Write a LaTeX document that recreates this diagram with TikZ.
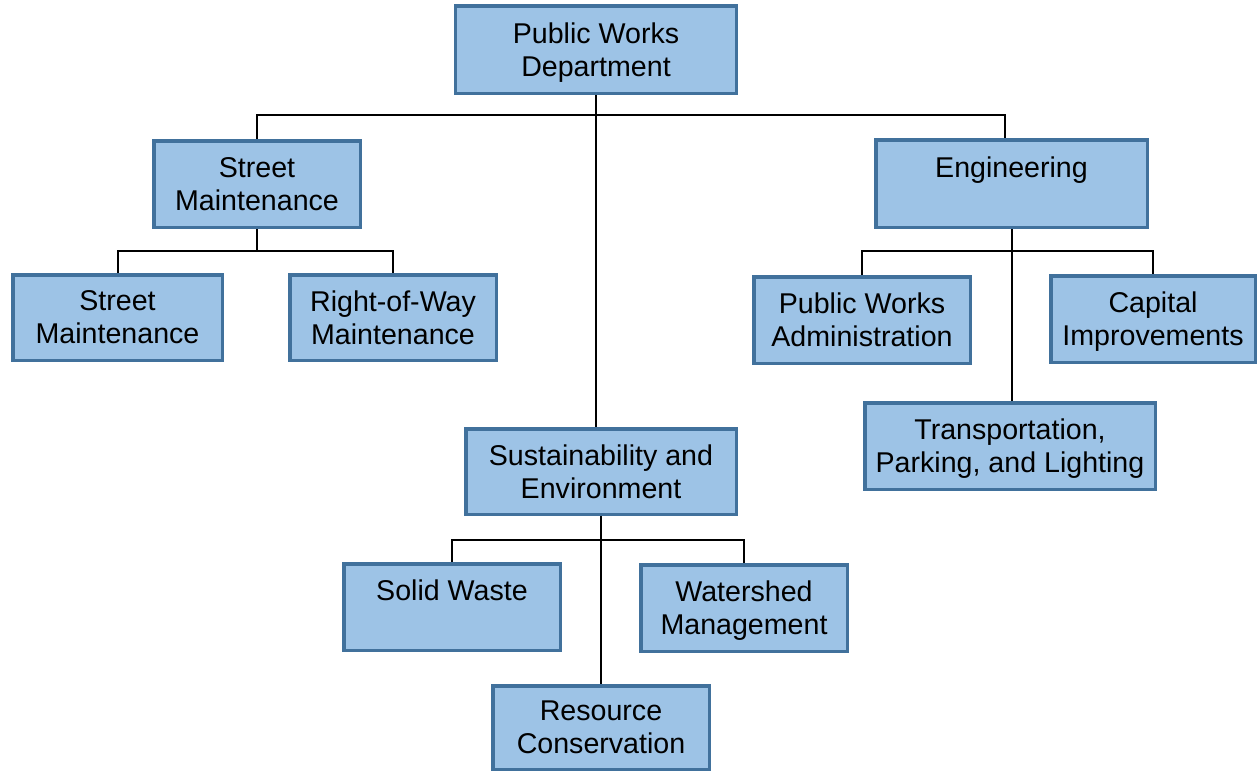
\documentclass[tikz,border=0pt]{standalone}
\usepackage{fontspec}
\setmainfont{Liberation Sans}
\usetikzlibrary{backgrounds}
\definecolor{boxfill}{RGB}{157,195,230}
\definecolor{boxline}{RGB}{65,113,156}
\newcommand\twoline[2]{\rule{0pt}{18.5pt}#1\\\smash{#2}}
\begin{document}
\begin{tikzpicture}[x=1pt,y=-1pt,
  orgbox/.style={draw=boxline, fill=boxfill, line width=3.5pt, align=center,
    inner sep=0pt, font=\fontsize{28.6}{33}\selectfont},
  link/.style={draw=black, line width=2pt}]
\useasboundingbox (0,0) rectangle (1257,772);

\node[orgbox, minimum width=281pt, minimum height=87.5pt] (top) at (596,49.5) {\twoline{Public Works}{Department}};
\node[orgbox, minimum width=206.5pt, minimum height=86.5pt] (sm) at (257,184) {\twoline{Street}{Maintenance}};
\node[orgbox, minimum width=271.5pt, minimum height=87.5pt] (eng) at (1011.5,183.5) {\twoline{Engineering}{}};
\node[orgbox, minimum width=209.5pt, minimum height=85.5pt] (sm1) at (117.5,317.5) {\twoline{Street}{Maintenance}};
\node[orgbox, minimum width=206.5pt, minimum height=85.5pt] (row) at (393,317.5) {\twoline{Right-of-Way}{Maintenance}};
\node[orgbox, minimum width=216.5pt, minimum height=86.5pt] (pwa) at (862,320) {\twoline{Public Works}{Administration}};
\node[orgbox, minimum width=204.5pt, minimum height=86.5pt] (cap) at (1153,319) {\twoline{Capital}{Improvements}};
\node[orgbox, minimum width=290.5pt, minimum height=86.5pt] (tpl) at (1010,446) {\twoline{Transportation,}{Parking, and Lighting}};
\node[orgbox, minimum width=270.5pt, minimum height=85.5pt] (sus) at (601,471.5) {\twoline{Sustainability and}{Environment}};
\node[orgbox, minimum width=216.5pt, minimum height=86.5pt] (sw) at (452,607) {\twoline{Solid Waste}{}};
\node[orgbox, minimum width=206.5pt, minimum height=86.5pt] (wm) at (744,608) {\twoline{Watershed}{Management}};
\node[orgbox, minimum width=216.5pt, minimum height=83.5pt] (rc) at (601,727.5) {\twoline{Resource}{Conservation}};

\coordinate (j1) at (596,115);
\coordinate (j2) at (257,251);
\coordinate (j3) at (601,540);
\coordinate (j4) at (1011.5,251);

\begin{scope}[on background layer]
\fill[white] (0,0) rectangle (1257,772);
\draw[link] (top.south) -- (top.south |- sus.north);
\draw[link] (sm.north) |- (j1) -| ([xshift=-6.5pt]eng.north);
\draw[link] (sm.south) -- (j2);
\draw[link] (sm1.north) |- (j2) -| (row.north);
\draw[link] (eng.south) -- (eng.south |- tpl.north);
\draw[link] (pwa.north) |- (j4) -| (cap.north);
\draw[link] (sus.south) -- (rc.north);
\draw[link] (sw.north) |- (j3) -| (wm.north);
\end{scope}
\end{tikzpicture}
\end{document}
